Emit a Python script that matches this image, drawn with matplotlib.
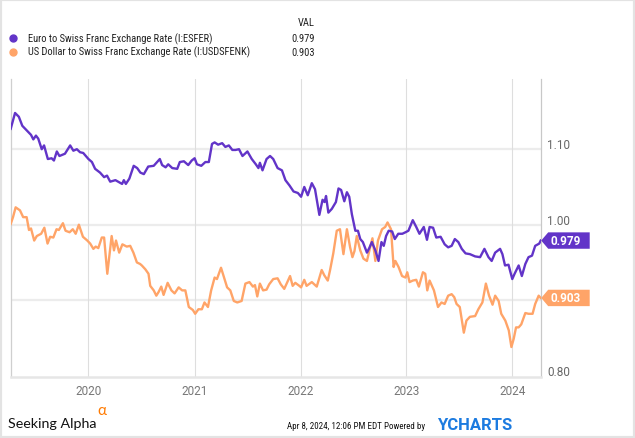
import matplotlib
matplotlib.use("Agg")
import matplotlib.pyplot as plt
import matplotlib.transforms as mtransforms
from matplotlib import font_manager
from matplotlib.font_manager import FontProperties
from matplotlib.patches import Polygon, Rectangle
from matplotlib.lines import Line2D
import pandas as pd

# Euro to Swiss Franc (I:ESFER)
eur_dates = [
    "2019-04-08", "2019-04-23", "2019-05-06", "2019-05-18", "2019-06-02", "2019-06-17",
    "2019-06-25", "2019-07-04", "2019-07-12", "2019-07-24", "2019-08-01", "2019-08-14",
    "2019-08-27", "2019-09-04", "2019-09-14", "2019-09-23", "2019-10-12", "2019-10-30",
    "2019-11-10", "2019-11-22", "2019-12-03", "2019-12-14", "2020-01-01", "2020-01-13",
    "2020-01-24", "2020-02-10", "2020-02-24", "2020-03-05", "2020-03-16", "2020-04-03",
    "2020-04-26", "2020-05-02", "2020-05-09", "2020-05-21", "2020-06-05", "2020-06-17",
    "2020-06-28", "2020-07-10", "2020-07-25", "2020-08-13", "2020-09-03", "2020-09-11",
    "2020-09-23", "2020-10-02", "2020-10-16", "2020-11-02", "2020-11-11", "2020-11-25",
    "2020-12-10", "2020-12-22", "2021-01-01", "2021-01-09", "2021-01-24", "2021-02-07",
    "2021-02-19", "2021-03-02", "2021-03-11", "2021-03-23", "2021-04-06", "2021-04-17",
    "2021-04-29", "2021-05-11", "2021-05-22", "2021-06-03", "2021-06-15", "2021-07-02",
    "2021-07-17", "2021-07-31", "2021-08-09", "2021-08-14", "2021-08-23", "2021-09-06",
    "2021-09-18", "2021-09-29", "2021-10-14", "2021-10-29", "2021-11-10", "2021-11-24",
    "2021-12-08", "2021-12-23", "2022-01-03", "2022-01-14", "2022-01-26", "2022-02-09",
    "2022-02-20", "2022-03-07", "2022-03-18", "2022-03-25", "2022-03-30", "2022-04-07",
    "2022-04-19", "2022-05-03", "2022-05-12", "2022-05-21", "2022-06-01", "2022-06-10",
    "2022-06-18", "2022-06-27", "2022-07-09", "2022-07-18", "2022-07-26", "2022-08-04",
    "2022-08-18", "2022-08-26", "2022-09-04", "2022-09-16", "2022-09-27", "2022-10-07",
    "2022-10-15", "2022-10-23", "2022-11-01", "2022-11-13", "2022-11-22", "2022-12-04",
    "2022-12-18", "2022-12-29", "2023-01-08", "2023-01-23", "2023-02-04", "2023-02-15",
    "2023-03-02", "2023-03-13", "2023-03-22", "2023-04-03", "2023-04-14", "2023-04-29",
    "2023-05-13", "2023-05-25", "2023-06-06", "2023-06-17", "2023-06-29", "2023-07-11",
    "2023-07-24", "2023-08-08", "2023-08-26", "2023-09-12", "2023-09-27", "2023-10-11",
    "2023-10-22", "2023-11-03", "2023-11-20", "2023-11-28", "2023-12-07", "2023-12-19",
    "2024-01-01", "2024-01-09", "2024-01-23", "2024-02-03", "2024-02-15", "2024-02-26",
    "2024-03-09", "2024-03-20", "2024-04-03", "2024-04-08",
]
eur_values = [
    1.127, 1.148, 1.143, 1.131, 1.125, 1.119, 1.113, 1.118, 1.114, 1.100, 1.105, 1.087,
    1.088, 1.085, 1.097, 1.091, 1.094, 1.105, 1.098, 1.100, 1.096, 1.095, 1.087, 1.083,
    1.074, 1.069, 1.063, 1.065, 1.057, 1.059, 1.054, 1.059, 1.054, 1.061, 1.078, 1.075,
    1.069, 1.067, 1.077, 1.078, 1.087, 1.079, 1.076, 1.080, 1.075, 1.074, 1.083, 1.084,
    1.079, 1.085, 1.088, 1.080, 1.078, 1.083, 1.083, 1.107, 1.109, 1.106, 1.108, 1.103,
    1.105, 1.099, 1.099, 1.100, 1.091, 1.097, 1.087, 1.080, 1.075, 1.082, 1.072, 1.087,
    1.091, 1.087, 1.075, 1.072, 1.059, 1.052, 1.044, 1.042, 1.037, 1.050, 1.039, 1.055,
    1.047, 1.013, 1.033, 1.030, 1.038, 1.016, 1.021, 1.030, 1.048, 1.046, 1.031, 1.043,
    1.037, 1.014, 0.992, 0.992, 0.981, 0.977, 0.963, 0.969, 0.977, 0.966, 0.952, 0.977,
    0.972, 0.985, 0.992, 0.991, 0.981, 0.988, 0.988, 0.990, 0.992, 1.006, 0.997, 0.988,
    0.997, 0.980, 0.997, 0.996, 0.983, 0.984, 0.974, 0.970, 0.972, 0.981, 0.977, 0.968,
    0.962, 0.961, 0.958, 0.957, 0.968, 0.957, 0.952, 0.963, 0.968, 0.961, 0.946, 0.947,
    0.928, 0.935, 0.946, 0.932, 0.948, 0.957, 0.959, 0.972, 0.975, 0.979,
]

# US Dollar to Swiss Franc (I:USDSFENK)
usd_dates = [
    "2019-04-08", "2019-04-16", "2019-04-25", "2019-05-10", "2019-05-21", "2019-06-02",
    "2019-06-10", "2019-06-17", "2019-06-28", "2019-07-07", "2019-07-22", "2019-08-02",
    "2019-08-13", "2019-08-22", "2019-09-02", "2019-09-13", "2019-09-21", "2019-10-05",
    "2019-10-14", "2019-10-28", "2019-11-08", "2019-11-18", "2019-11-29", "2019-12-13",
    "2019-12-28", "2020-01-07", "2020-01-18", "2020-01-26", "2020-02-04", "2020-02-16",
    "2020-02-24", "2020-03-06", "2020-03-21", "2020-03-29", "2020-04-05", "2020-04-16",
    "2020-04-27", "2020-05-12", "2020-05-24", "2020-06-04", "2020-06-16", "2020-06-27",
    "2020-07-03", "2020-07-15", "2020-07-26", "2020-08-01", "2020-08-13", "2020-08-22",
    "2020-08-30", "2020-09-08", "2020-09-16", "2020-09-30", "2020-10-13", "2020-10-24",
    "2020-11-07", "2020-11-19", "2020-11-30", "2020-12-12", "2020-12-26", "2021-01-03",
    "2021-01-14", "2021-01-26", "2021-02-04", "2021-02-16", "2021-02-27", "2021-03-11",
    "2021-03-19", "2021-04-02", "2021-04-11", "2021-04-23", "2021-05-04", "2021-05-16",
    "2021-05-28", "2021-06-12", "2021-06-25", "2021-07-09", "2021-07-21", "2021-07-28",
    "2021-08-05", "2021-08-14", "2021-08-25", "2021-09-06", "2021-09-15", "2021-09-29",
    "2021-10-14", "2021-10-25", "2021-11-06", "2021-11-18", "2021-11-26", "2021-12-05",
    "2021-12-14", "2021-12-28", "2022-01-03", "2022-01-14", "2022-01-22", "2022-02-09",
    "2022-02-26", "2022-03-15", "2022-03-24", "2022-04-05", "2022-04-13", "2022-04-24",
    "2022-05-06", "2022-05-17", "2022-05-29", "2022-06-10", "2022-06-21", "2022-06-29",
    "2022-07-06", "2022-07-14", "2022-07-26", "2022-08-06", "2022-08-18", "2022-08-29",
    "2022-09-06", "2022-09-16", "2022-09-25", "2022-10-09", "2022-10-20", "2022-10-28",
    "2022-11-09", "2022-11-18", "2022-11-24", "2022-12-05", "2022-12-17", "2022-12-29",
    "2023-01-04", "2023-01-12", "2023-01-23", "2023-02-04", "2023-02-13", "2023-02-27",
    "2023-03-07", "2023-03-14", "2023-03-22", "2023-04-06", "2023-04-20", "2023-05-02",
    "2023-05-13", "2023-05-25", "2023-06-06", "2023-06-15", "2023-06-23", "2023-07-04",
    "2023-07-18", "2023-07-27", "2023-08-08", "2023-08-26", "2023-09-06", "2023-09-20",
    "2023-10-02", "2023-10-13", "2023-10-25", "2023-11-03", "2023-11-15", "2023-11-24",
    "2023-12-08", "2023-12-20", "2023-12-29", "2024-01-06", "2024-01-14", "2024-01-23",
    "2024-02-01", "2024-02-15", "2024-02-26", "2024-03-11", "2024-03-20", "2024-04-01",
    "2024-04-08",
]
usd_values = [
    1.001, 1.010, 1.023, 1.019, 1.010, 1.010, 0.993, 0.995, 0.979, 0.985, 0.988, 0.996,
    0.975, 0.984, 0.983, 0.994, 0.993, 1.002, 0.992, 0.990, 0.994, 0.988, 1.000, 0.984,
    0.979, 0.975, 0.968, 0.971, 0.969, 0.983, 0.983, 0.935, 0.985, 0.966, 0.979, 0.963,
    0.974, 0.971, 0.972, 0.963, 0.950, 0.948, 0.946, 0.941, 0.935, 0.919, 0.913, 0.906,
    0.911, 0.918, 0.907, 0.923, 0.913, 0.909, 0.917, 0.913, 0.913, 0.891, 0.887, 0.882,
    0.888, 0.888, 0.897, 0.891, 0.913, 0.930, 0.928, 0.943, 0.932, 0.917, 0.913, 0.899,
    0.897, 0.899, 0.922, 0.924, 0.918, 0.920, 0.905, 0.922, 0.913, 0.914, 0.921, 0.928,
    0.929, 0.921, 0.915, 0.925, 0.932, 0.919, 0.923, 0.919, 0.917, 0.927, 0.919, 0.924,
    0.918, 0.940, 0.933, 0.926, 0.940, 0.962, 0.992, 0.994, 0.961, 0.994, 0.970, 0.957,
    0.965, 0.985, 0.966, 0.955, 0.952, 0.970, 0.982, 0.952, 0.979, 0.994, 0.997, 1.003,
    0.994, 0.944, 0.952, 0.944, 0.932, 0.930, 0.937, 0.924, 0.926, 0.927, 0.918, 0.937,
    0.935, 0.913, 0.926, 0.913, 0.891, 0.897, 0.895, 0.906, 0.908, 0.904, 0.895, 0.891,
    0.857, 0.873, 0.878, 0.879, 0.888, 0.897, 0.922, 0.906, 0.894, 0.906, 0.899, 0.882,
    0.873, 0.860, 0.838, 0.849, 0.864, 0.864, 0.868, 0.883, 0.882, 0.882, 0.895, 0.906,
    0.903,
]

series_names = ["Euro to Swiss Franc Exchange Rate (I:ESFER)",
                "US Dollar to Swiss Franc Exchange Rate (I:USDSFENK)"]
series_last = [0.979, 0.903]
colors = ["#6234c8", "#ffa468"]
years = ["2020", "2021", "2022", "2023", "2024"]
ytick_vals = [0.80, 1.00, 1.10]
grid_vals = [0.90, 1.00, 1.10]

W, H = 635, 439


def fx(px):
    return px / W


def fy(py):
    return 1 - py / H


def find_condensed():
    # look for any narrow / condensed sans face that happens to be installed
    prefs = ["Roboto Condensed", "Noto Sans", "Liberation Sans Narrow",
             "Open Sans", "DejaVu Sans"]
    cands = []
    for f in font_manager.fontManager.ttflist:
        low = (f.name + " " + f.fname).lower()
        narrow = ("condensed" in low or "narrow" in low or
                  str(f.stretch) in ("condensed", "semi-condensed", "extra-condensed"))
        if not narrow or f.style != "normal" or f.weight not in (400, "normal", "regular"):
            continue
        if "semicondensed" in low.replace("-", "").replace(" ", "") or "extra" in low:
            continue
        rank = next((i for i, p in enumerate(prefs) if f.name.startswith(p)), len(prefs))
        cands.append((rank, f.fname))
    if cands:
        cands.sort()
        return FontProperties(fname=cands[0][1])
    return FontProperties(family="Roboto")


def fit_width(t, target_px, renderer, min_size=0):
    w = t.get_window_extent(renderer).width
    if w > 0:
        t.set_fontsize(max(min_size, t.get_fontsize() * target_px / w))


narrow_fp = find_condensed()
roboto = "Roboto"
brand = "Lato"

fig = plt.figure(figsize=(W / 100, H / 100), dpi=100)
fig.patch.set_facecolor("white")
renderer = fig.canvas.get_renderer()

left, right, top, bottom = 10.7, 540.7, 80, 377.7
ax = fig.add_axes([fx(left), fy(bottom), fx(right - left), (bottom - top) / H])

eur = pd.Series(eur_values, index=pd.to_datetime(eur_dates))
usd = pd.Series(usd_values, index=pd.to_datetime(usd_dates))

ax.plot(usd.index, usd.values, color=colors[1], lw=1.7, zorder=3, solid_joinstyle="round")
ax.plot(eur.index, eur.values, color=colors[0], lw=1.7, zorder=4, solid_joinstyle="round")

ax.set_xlim(pd.Timestamp("2019-04-08"), pd.Timestamp("2024-04-08"))
ax.set_ylim(1.00 - (bottom - 225.7) / 755, 1.00 + (225.7 - top) / 755)

# grid
for g in grid_vals:
    ax.axhline(g, color="#ececec", lw=1.6, zorder=1)
for y in years:
    ax.axvline(pd.Timestamp(f"{y}-01-01"), color="#dedede", lw=0.8, zorder=1)

ax.set_xticks([])
ax.set_yticks([])
ax.spines["top"].set_visible(False)
ax.spines["left"].set_color("#cfcfcf")
ax.spines["left"].set_linewidth(0.9)
ax.spines["right"].set_color("#c8c8c8")
ax.spines["right"].set_linewidth(0.9)
ax.spines["bottom"].set_color("#e6e6e6")
ax.spines["bottom"].set_linewidth(1.8)

# right axis labels
pw = right - left
ytrans = mtransforms.blended_transform_factory(ax.transAxes, ax.transData)
for v in ytick_vals:
    ax.text(1 + 6.5 / pw, v + 0.0015, f"{v:.2f}", transform=ytrans,
            ha="left", va="baseline", fontsize=8.5, color="#666666", family=roboto)

# year labels
xtrans = mtransforms.blended_transform_factory(ax.transData, ax.transAxes)
for y in years:
    ax.text(pd.Timestamp(f"{y}-01-01"), -13.8 / (bottom - top), y, transform=xtrans,
            ha="center", va="center", fontsize=8.5, color="#777777", family=roboto)

# value tags
half = 8.2 / 755
for v, c in zip(series_last, colors):
    x0, x1, x2 = 1 + 0.5 / pw, 1 + 7.5 / pw, 1 + 49 / pw
    poly = Polygon([[x0, v], [x1, v + half], [x2, v + half], [x2, v - half], [x1, v - half]],
                   closed=True, transform=ytrans, facecolor=c, edgecolor="none",
                   clip_on=False, zorder=5)
    ax.add_patch(poly)
    ax.text(1 + 24.5 / pw, v, f"{v:.3f}", transform=ytrans, ha="center", va="center",
            fontsize=8.5, color="white", fontweight="bold", family=roboto, zorder=6)

# legend
hdr = fig.text(fx(315), fy(23.5), "VAL", ha="right", va="center",
               color="#222222", fontproperties=narrow_fp)
name_texts, val_texts = [], []
for i, (name, v, c) in enumerate(zip(series_names, series_last, colors)):
    yy = 39 + i * 13.5
    fig.add_artist(Line2D([fx(13)], [fy(yy)], marker="o", ms=5, color=c,
                          transform=fig.transFigure))
    name_texts.append(fig.text(fx(28), fy(yy), name, ha="left", va="center",
                               color="#222222", fontproperties=narrow_fp))
    val_texts.append(fig.text(fx(315), fy(yy), f"{v:.3f}", ha="right", va="center",
                              color="#222222", fontproperties=narrow_fp))
for t in name_texts + val_texts + [hdr]:
    t.set_fontsize(8)
fit_width(name_texts[0], 186, renderer, min_size=7.0)
leg_size = name_texts[0].get_fontsize()
for t in name_texts + val_texts + [hdr]:
    t.set_fontsize(leg_size)

# footer
sa = fig.text(fx(8), fy(428), "Seeking Alpha", ha="left", va="baseline", fontsize=12,
              color="#111111", family=brand)
fit_width(sa, 88, renderer)
fig.text(fx(97), fy(411), "\u03b1", ha="left", va="center", fontsize=11,
         color="#ff7a00", family=brand)
stamp = fig.text(fx(425), fy(426.5), "Apr 8, 2024, 12:06 PM EDT Powered by", ha="right",
                 va="center", color="#111111", fontproperties=narrow_fp)
stamp.set_fontsize(7.5)
fit_width(stamp, 125, renderer, min_size=6.5)
fig.text(fx(437), fy(425.5), "YCHARTS", ha="left", va="center", fontsize=12,
         color="#1c7be0", fontweight="bold", family=roboto)

# outer frame
fig.add_artist(Rectangle((0, 0), 1, 1, transform=fig.transFigure, fill=False,
                         edgecolor="#e3e3e3", lw=3))

fig.savefig("out.png", dpi=100, facecolor="white")
